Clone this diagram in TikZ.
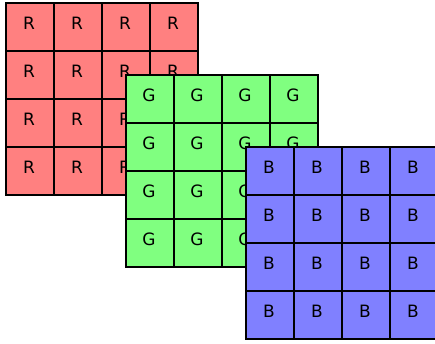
\documentclass[tikz,border=0pt]{standalone}
\usepackage{fontspec}
\setmainfont{DejaVu Sans}
\definecolor{redc}{RGB}{255,128,128}
\definecolor{greenc}{RGB}{128,255,128}
\definecolor{bluec}{RGB}{128,128,255}
\begin{document}
\begin{tikzpicture}[x=1pt,y=-1pt,
  cell/.style={draw=black,line width=1.8pt,minimum size=48pt,inner sep=0pt,outer sep=0pt},
  lab/.style={font=\fontsize{17}{20}\selectfont,text=black,inner sep=0pt}]
\useasboundingbox (0,0) rectangle (435,343);
\clip (0,0) rectangle (435,343);
\foreach \nm/\ch/\ox/\oy/\col in {r/R/6/3/redc, g/G/126/75/greenc, b/B/246/147/bluec} {
  \foreach \i in {0,...,3} {
    \foreach \j in {0,...,3} {
      \node[cell,fill=\col] (\nm\i\j) at ({\ox+24+48*\i},{\oy+24+48*\j}) {};
      \node[lab] (\nm t\i\j) at ([shift={(-1,-3.3)}]\nm\i\j.center) {\ch};
    }
  }
}
\end{tikzpicture}
\end{document}
